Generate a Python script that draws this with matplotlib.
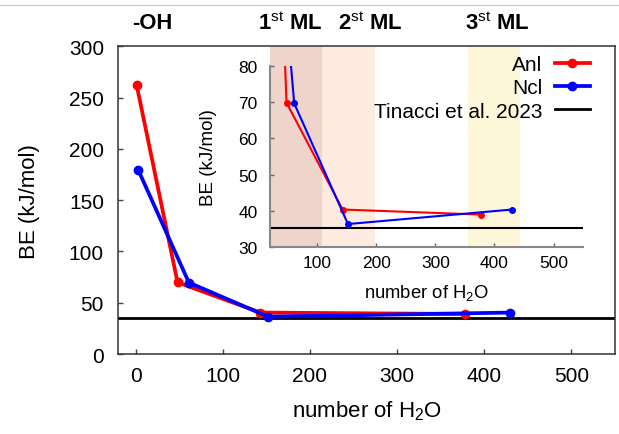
import matplotlib
matplotlib.use('Agg')
import matplotlib.pyplot as plt
from matplotlib.patches import Rectangle
from matplotlib.lines import Line2D

plt.rcParams['font.family'] = ['Liberation Sans', 'DejaVu Sans']
plt.rcParams['mathtext.fontset'] = 'custom'
plt.rcParams['mathtext.rm'] = 'Liberation Sans'
plt.rcParams['mathtext.bf'] = 'Liberation Sans:bold'

# values
anl_n = [1, 48, 143, 378]
anl_be = [262.5, 69.8, 40.4, 39.0]
ncl_n = [3, 61, 152, 430]
ncl_be = [179.3, 69.6, 36.4, 40.4]
tinacci_be = 35.3

# monolayer ranges shaded in the inset (number of H2O)
layer_lo = [20, 108, 356]
layer_hi = [108, 198, 443]
layer_colors = ['#efd4cb', '#fdebe0', '#fef6d9']

top_labels = ['-OH', r'1$^{\rm st}$ ML', r'2$^{\rm st}$ ML', r'3$^{\rm st}$ ML']
top_label_x = [0.2456, 0.4685, 0.5977, 0.8029]

main_xticks = [0, 100, 200, 300, 400, 500]
main_yticks = [0, 50, 100, 150, 200, 250, 300]
ins_xticks = [100, 200, 300, 400, 500]
ins_yticks = [30, 40, 50, 60, 70, 80]

xlab = r'number of H$_{\mathrm{2}}$O'
ylab = 'BE (kJ/mol)'

fig = plt.figure(figsize=(6.19, 4.35), dpi=100)

# main panel
ax = fig.add_axes([0.1911, 0.1839, 0.8024, 0.7074])
l_t = ax.axhline(tinacci_be, color='black', lw=2.0, zorder=1, label='Tinacci et al. 2023')
l_a, = ax.plot(anl_n, anl_be, '-o', color='red', lw=2.7, ms=6, zorder=2, label='Anl')
l_n, = ax.plot(ncl_n, ncl_be, '-o', color='blue', lw=2.7, ms=6, zorder=3, label='Ncl')
ax.set_xlim(-20, 550)
ax.set_ylim(0, 300)
ax.set_xticks(main_xticks)
ax.set_yticks(main_yticks)
ax.tick_params(direction='in', length=3.6, width=1, color='#444444', labelsize=15)
ax.tick_params(axis='x', pad=8.4)
ax.tick_params(axis='y', pad=10.3)
for s in ax.spines.values():
    s.set_color('#333333')
    s.set_linewidth(1.1)
ax.set_xlabel(xlab, fontsize=16)
ax.set_ylabel(ylab, fontsize=16)
ax.xaxis.set_label_coords(0.5, -0.145)
ax.yaxis.set_label_coords(-0.1585, 0.5)

# inset
ins = fig.add_axes([0.4362, 0.4292, 0.5057, 0.4175])
ins.patch.set_alpha(0)
for lo, hi, c in zip(layer_lo, layer_hi, layer_colors):
    ins.add_patch(Rectangle((lo, 30), hi - lo, 55.1, facecolor=c, lw=0,
                            clip_on=False, zorder=0))
ins.axhline(tinacci_be, color='black', lw=1.5, zorder=1)
ins.plot(anl_n, anl_be, '-o', color='red', lw=1.5, ms=4, zorder=2)
ins.plot(ncl_n, ncl_be, '-o', color='blue', lw=1.5, ms=4, zorder=3)
ins.set_xlim(20, 550)
ins.set_ylim(30, 80)
ins.set_xticks(ins_xticks)
ins.set_yticks(ins_yticks)
ins.spines['top'].set_visible(False)
ins.spines['right'].set_visible(False)
for s in ['left', 'bottom']:
    ins.spines[s].set_color('#888888')
    ins.spines[s].set_linewidth(1.5)
ins.tick_params(direction='in', length=3, width=1, color='#666666', labelsize=12.5)
ins.tick_params(axis='x', pad=5.5)
ins.tick_params(axis='y', pad=8.9)
ins.set_xlabel(xlab, fontsize=13.3)
ins.set_ylabel(ylab, fontsize=13.5)
ins.xaxis.set_label_coords(0.5, -0.191)
ins.yaxis.set_label_coords(-0.168, 0.5)

ins.legend(handles=[l_a, l_n, l_t], loc='upper right', frameon=False,
           markerfirst=False, fontsize=15, handlelength=1.68, handletextpad=0.59,
           labelspacing=0.2, borderpad=0, borderaxespad=0,
           bbox_to_anchor=(0.953, 0.8705), bbox_transform=fig.transFigure)

for lab, xpos in zip(top_labels, top_label_x):
    fig.text(xpos, 0.947, lab, ha='center', va='center', fontsize=15.8,
             fontweight='bold')

fig.add_artist(Line2D([0, 1], [1 - 5.5 / 435] * 2, color='#cccccc', lw=1))

fig.savefig('out.png', dpi=100)
